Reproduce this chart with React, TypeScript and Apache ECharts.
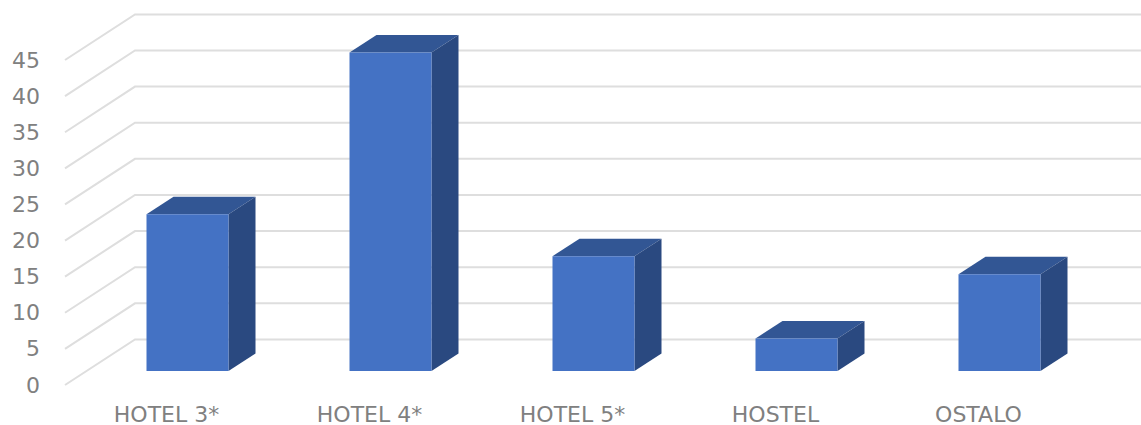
import React, { useEffect, useRef } from "react";
import * as echarts from "echarts";

const categories = ["HOTEL 3*", "HOTEL 4*", "HOTEL 5*", "HOSTEL", "OSTALO"];
const values = [21.7, 44.1, 15.9, 4.5, 13.4];
const gridTicks = [0, 5, 10, 15, 20, 25, 30, 35, 40, 45];

const DEPTH_X = 70;
const DEPTH_Y = -45.6;
const BAR_SHIFT_X = 21;
const BAR_SHIFT_Y = -14;
const BAR_W = 82;
const SIDE_X = 27;
const SIDE_Y = -17.5;
const FONT = "'DejaVu Sans', sans-serif";
const TEXT = "#808080";
const GRID = "#DEDEDE";

export default function App() {
  const ref = useRef<HTMLDivElement>(null);
  useEffect(() => {
    const chart = echarts.init(ref.current!, undefined, { renderer: "svg" });
    chart.setOption({
      animation: false,
      backgroundColor: "#ffffff",
      grid: { left: 65, width: 1015, top: 60, height: 325 },
      xAxis: {
        type: "category",
        data: categories,
        axisLine: { show: false },
        axisTick: { show: false },
        axisLabel: { color: TEXT, fontFamily: FONT, fontSize: 22, margin: 18, hideOverlap: false },
      },
      yAxis: {
        type: "value",
        min: 0,
        max: 45,
        interval: 5,
        splitLine: { show: false },
        axisLine: { show: false },
        axisTick: { show: false },
        axisLabel: { color: TEXT, fontFamily: FONT, fontSize: 22, margin: 25 },
      },
      series: [
        {
          type: "custom",
          clip: false,
          silent: true,
          z: 1,
          coordinateSystem: "cartesian2d",
          data: gridTicks.map((t) => [0, t]),
          renderItem: (params: any, api: any) => {
            const y = api.coord([0, api.value(1)])[1];
            const cs = params.coordSys;
            const x0 = cs.x;
            const x1 = cs.x + cs.width;
            return {
              type: "polyline",
              shape: {
                points: [
                  [x0, y],
                  [x0 + DEPTH_X, y + DEPTH_Y],
                  [x1 + DEPTH_X, y + DEPTH_Y],
                ],
              },
              style: { stroke: GRID, lineWidth: 2, fill: "none" },
            };
          },
        },
        {
          type: "custom",
          clip: false,
          z: 2,
          coordinateSystem: "cartesian2d",
          data: values.map((v, i) => [i, v]),
          renderItem: (_: any, api: any) => {
            const i = api.value(0);
            const c = api.coord([i, api.value(1)]);
            const b = api.coord([i, 0]);
            const l = c[0] + BAR_SHIFT_X - BAR_W / 2;
            const r = l + BAR_W;
            const t = c[1] + BAR_SHIFT_Y;
            const bt = b[1] + BAR_SHIFT_Y;
            return {
              type: "group",
              children: [
                {
                  type: "polygon",
                  shape: { points: [[l, t], [r, t], [r + SIDE_X, t + SIDE_Y], [l + SIDE_X, t + SIDE_Y]] },
                  style: { fill: "#325694" },
                },
                {
                  type: "polygon",
                  shape: { points: [[r, t], [r + SIDE_X, t + SIDE_Y], [r + SIDE_X, bt + SIDE_Y], [r, bt]] },
                  style: { fill: "#2A4980" },
                },
                {
                  type: "rect",
                  shape: { x: l, y: t, width: BAR_W, height: bt - t },
                  style: { fill: "#4472C4" },
                },
              ],
            };
          },
        },
      ],
    });
    return () => chart.dispose();
  }, []);
  return (
    <div
      ref={ref}
      style={{ position: "fixed", left: 0, top: 0, width: 1141, height: 425 }}
    />
  );
}
